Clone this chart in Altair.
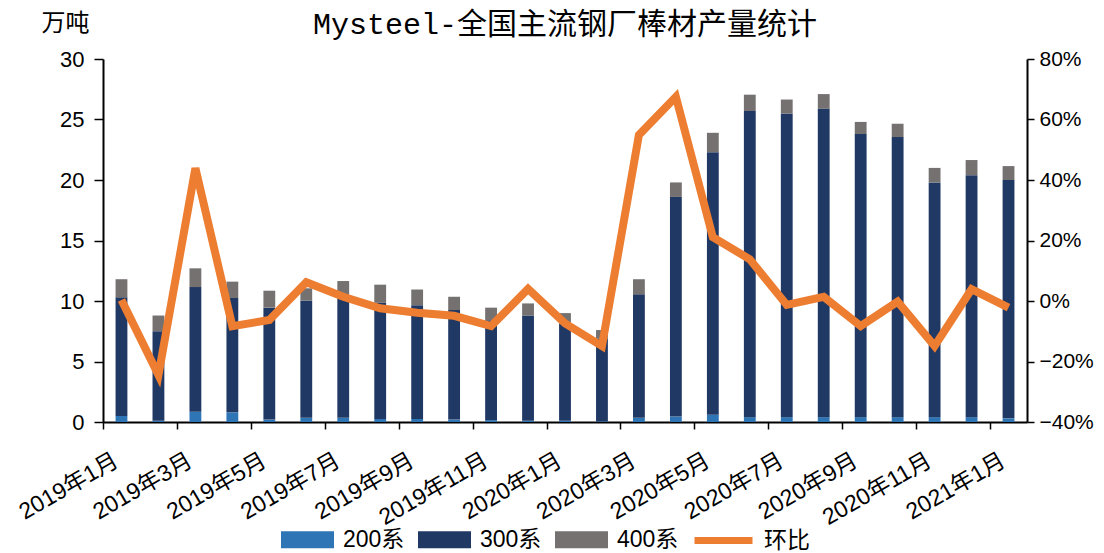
import altair as alt
import pandas as pd

months = ["2019年1月", "2019年2月", "2019年3月", "2019年4月", "2019年5月", "2019年6月",
          "2019年7月", "2019年8月", "2019年9月", "2019年10月", "2019年11月", "2019年12月",
          "2020年1月", "2020年2月", "2020年3月", "2020年4月", "2020年5月", "2020年6月",
          "2020年7月", "2020年8月", "2020年9月", "2020年10月", "2020年11月", "2020年12月",
          "2021年1月"]
s200 = [0.5, 0.1, 0.85, 0.8, 0.2, 0.35, 0.35, 0.25, 0.25, 0.2, 0.15, 0.1, 0.1,
        0.05, 0.35, 0.45, 0.6, 0.4, 0.4, 0.4, 0.4, 0.4, 0.4, 0.4, 0.3]
s300 = [9.8, 7.4, 10.3, 9.45, 9.25, 9.7, 9.85, 9.6, 9.4, 9.05, 8.25, 8.7, 8.05,
        6.85, 10.2, 18.15, 21.7, 25.3, 25.1, 25.5, 23.4, 23.15, 19.4, 20.0, 19.7]
s400 = [1.5, 1.3, 1.55, 1.35, 1.4, 1.0, 1.45, 1.5, 1.3, 1.1, 1.05, 1.0, 0.85,
        0.7, 1.25, 1.2, 1.6, 1.35, 1.15, 1.2, 1.0, 1.1, 1.2, 1.25, 1.15]
mom = [0.3, -24.5, 43.9, -8.3, -6.3, 6.2, 1.4, -2.4, -3.9, -4.9, -8.3, 4.0, -7.4,
       -14.9, 54.9, 67.5, 21.1, 13.8, -1.3, 1.4, -8.3, -0.2, -14.9, 3.9, -2.2]
series = ["200系", "300系", "400系"]
bar_colors = ["#2E75B6", "#203864", "#767171"]
line_name = "环比"
line_color = "#ED7D31"

rows = []
for i, m in enumerate(months):
    for k, (name, vals) in enumerate(zip(series, [s200, s300, s400])):
        rows.append({"month": m, "series": name, "value": vals[i], "order": k})
bars_df = pd.DataFrame(rows)
line_df = pd.DataFrame({"month": months, "mom": mom, "name": [line_name] * len(months)})

W, H = 924, 363
step = W / len(months)
FONT = "Liberation Sans, Noto Sans CJK SC"
CJK = "Liberation Mono, Noto Sans CJK SC"

x_enc = alt.X(
    "month:N", sort=months,
    scale=alt.Scale(paddingInner=0.68, paddingOuter=0.34),
    axis=alt.Axis(
        values=months[::2], title=None, labelAngle=330, labelAlign="right",
        labelBaseline="top", labelPadding=20, tickOffset=-step / 2, labelOffset=step / 2 - 11,
        tickSize=7, tickColor="black", tickWidth=1.5, domainColor="black", domainWidth=2,
        labelFont=FONT, labelFontSize=23, labelColor="black",
    ),
)

bars = alt.Chart(bars_df).mark_bar().encode(
    x=x_enc,
    y=alt.Y(
        "value:Q", stack="zero", scale=alt.Scale(domain=[0, 30]),
        axis=alt.Axis(
            values=[0, 5, 10, 15, 20, 25, 30], title="万吨", titleAngle=0,
            titleX=-38, titleY=-36, titleAlign="center", titleBaseline="middle",
            titleFont=CJK, titleFontSize=24, titleFontWeight="normal", titleColor="black",
            labelFont=FONT, labelFontSize=22, labelColor="black", labelPadding=10,
            tickSize=9, tickColor="black", tickWidth=1.5, domainColor="black", domainWidth=2,
            grid=False,
        ),
    ),
    color=alt.Color(
        "series:N", scale=alt.Scale(domain=series, range=bar_colors),
        legend=alt.Legend(
            orient="none", legendX=178, legendY=454, direction="horizontal", title=None,
            symbolType="M-1,-0.32L1,-0.32L1,0.32L-1,0.32Z", symbolSize=2809,
            symbolStrokeWidth=0, symbolOpacity=1, labelFont=FONT, labelFontSize=23,
            labelColor="black", labelOffset=9, columnPadding=13, padding=0,
        ),
    ),
    order=alt.Order("order:Q"),
)

line = alt.Chart(line_df).mark_line(strokeWidth=8, strokeJoin="miter").encode(
    x=alt.X("month:N", sort=months),
    y=alt.Y(
        "mom:Q", scale=alt.Scale(domain=[-40, 80]),
        axis=alt.Axis(
            orient="right", values=[-40, -20, 0, 20, 40, 60, 80], title=None,
            labelExpr="format(datum.value, 'd') + '%'",
            labelFont=FONT, labelFontSize=21, labelColor="black", labelPadding=5,
            tickSize=7, tickColor="black", tickWidth=1.5, domainColor="black", domainWidth=2,
            grid=False,
        ),
    ),
    stroke=alt.Stroke(
        "name:N", scale=alt.Scale(domain=[line_name], range=[line_color]),
        legend=alt.Legend(
            orient="none", legendX=588, legendY=449, direction="horizontal", title=None,
            symbolType="stroke", symbolSize=3364, symbolStrokeWidth=7,
            labelFont=FONT, labelFontSize=23, labelColor="black", labelOffset=8, padding=0,
        ),
    ),
)

chart = alt.layer(bars, line).resolve_scale(y="independent").properties(
    width=W, height=H,
    autosize=alt.AutoSizeParams(type="none"),
    padding={"left": 95, "top": 51, "right": 69, "bottom": 131},
    background="white",
    title=alt.TitleParams(
        "Mysteel-全国主流钢厂棒材产量统计", font=CJK, fontSize=30, fontWeight="normal",
        color="black", anchor="middle", offset=-29, frame="group",
    ),
).configure_view(stroke=None)

chart.save("out.html", embed_options={"renderer": "svg", "actions": False})
